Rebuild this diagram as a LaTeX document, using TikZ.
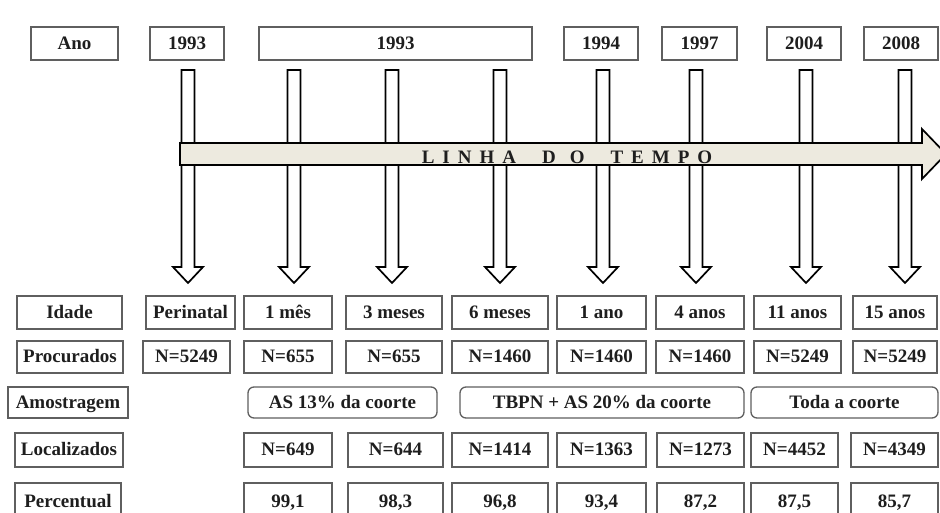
\documentclass[tikz,border=0pt]{standalone}
\usepackage{fontspec}
\setmainfont{Liberation Serif}
\definecolor{txt}{RGB}{30,30,30}
\definecolor{bord}{RGB}{95,95,95}
\definecolor{barfill}{RGB}{237,234,223}
\tikzset{
  cell/.style={draw=bord, line width=1.3pt, inner sep=0pt, text=txt,
    font=\bfseries\fontsize{19}{21}\selectfont, minimum height=33pt,
    text height=13.5pt, text depth=2pt},
  rcell/.style={cell, rounded corners=6pt},
  downarrow/.style={draw=black, line width=1.7pt, fill=white, line join=miter},
  timeline/.style={draw=black, line width=1.7pt, fill=barfill, line join=miter},
  tltext/.style={text=txt, font=\bfseries\fontsize{19}{21}\selectfont, inner sep=0pt},
}
\begin{document}
\begin{tikzpicture}[x=1pt,y=-1pt]
\useasboundingbox (0,0) rectangle (940,513);
\clip (0,0) rectangle (940,513);
\fill[white] (0,0) rectangle (940,513);

% top row: years
\node[cell, minimum width=87pt] (ano) at (74.5,43.5) {Ano};
\node[cell, minimum width=74pt] (y1) at (187,43.5) {1993};
\node[cell, minimum width=273pt] (y2) at (395.5,43.5) {1993};
\node[cell, minimum width=74pt] (y3) at (601,43.5) {1994};
\node[cell, minimum width=75pt] (y4) at (699.5,43.5) {1997};
\node[cell, minimum width=74pt] (y5) at (804,43.5) {2004};
\node[cell, minimum width=74pt] (y6) at (901,43.5) {2008};

% down arrows
\foreach \cx in {188,294,392,500,603,696,806,905}{
  \draw[downarrow] (\cx-6.5,70) -- (\cx+6.5,70) -- (\cx+6.5,267) -- (\cx+15,267)
    -- (\cx,283) -- (\cx-15,267) -- (\cx-6.5,267) -- cycle;
}

% timeline
\draw[timeline] (180,143) -- (922,143) -- (922,129) -- (946,154) -- (922,179)
  -- (922,165) -- (180,165) -- cycle;
\node[tltext] (linha) at (567,157)
  {L\kern8pt I\kern8pt N\kern8pt H\kern8pt A\kern26pt D\kern14pt O\kern26pt T\kern8pt E\kern8pt M\kern8pt P\kern8pt O};

% Idade row
\node[cell, minimum width=105pt] (idade) at (69.5,312.5) {Idade};
\node[cell, minimum width=89pt] (i1) at (190.5,312.5) {Perinatal};
\node[cell, minimum width=88pt] (i2) at (288,312.5) {1 mês};
\node[cell, minimum width=96pt] (i3) at (394,312.5) {3 meses};
\node[cell, minimum width=96pt] (i4) at (500,312.5) {6 meses};
\node[cell, minimum width=89pt] (i5) at (601.5,312.5) {1 ano};
\node[cell, minimum width=88pt] (i6) at (700,312.5) {4 anos};
\node[cell, minimum width=87pt] (i7) at (797.5,312.5) {11 anos};
\node[cell, minimum width=84pt] (i8) at (895,312.5) {15 anos};

% Procurados row
\node[cell, minimum width=106pt, minimum height=32pt] (proc) at (70,357) {Procurados};
\node[cell, minimum width=87pt, minimum height=32pt] (p1) at (186.5,357) {N=5249};
\node[cell, minimum width=88pt, minimum height=32pt] (p2) at (288,357) {N=655};
\node[cell, minimum width=96pt, minimum height=32pt] (p3) at (394,357) {N=655};
\node[cell, minimum width=96pt, minimum height=32pt] (p4) at (500,357) {N=1460};
\node[cell, minimum width=89pt, minimum height=32pt] (p5) at (601.5,357) {N=1460};
\node[cell, minimum width=88pt, minimum height=32pt] (p6) at (700,357) {N=1460};
\node[cell, minimum width=87pt, minimum height=32pt] (p7) at (797.5,357) {N=5249};
\node[cell, minimum width=84pt, minimum height=32pt] (p8) at (895,357) {N=5249};

% Amostragem row
\node[cell, minimum width=120pt, minimum height=31pt] (amos) at (68,402.5) {Amostragem};
\node[rcell, minimum width=189pt, minimum height=31pt] (a1) at (342.5,402.5) {AS 13\% da coorte};
\node[rcell, minimum width=284pt, minimum height=31pt] (a2) at (602,402.5) {TBPN + AS 20\% da coorte};
\node[rcell, minimum width=187pt, minimum height=31pt] (a3) at (844.5,402.5) {Toda a coorte};

% Localizados row
\node[cell, minimum width=108pt, minimum height=34pt] (loc) at (69,450) {Localizados};
\node[cell, minimum width=88pt, minimum height=34pt] (l1) at (288,450) {N=649};
\node[cell, minimum width=95pt, minimum height=34pt] (l2) at (395.5,450) {N=644};
\node[cell, minimum width=96pt, minimum height=34pt] (l3) at (500,450) {N=1414};
\node[cell, minimum width=89pt, minimum height=34pt] (l4) at (601.5,450) {N=1363};
\node[cell, minimum width=87pt, minimum height=34pt] (l5) at (700.5,450) {N=1273};
\node[cell, minimum width=87pt, minimum height=34pt] (l6) at (794.5,450) {N=4452};
\node[cell, minimum width=87pt, minimum height=34pt] (l7) at (894.5,450) {N=4349};

% Percentual row
\node[cell, minimum width=106pt, minimum height=38pt] (perc) at (68,502) {Percentual};
\node[cell, minimum width=88pt, minimum height=38pt] (q1) at (288,502) {99,1};
\node[cell, minimum width=95pt, minimum height=38pt] (q2) at (395.5,502) {98,3};
\node[cell, minimum width=96pt, minimum height=38pt] (q3) at (500,502) {96,8};
\node[cell, minimum width=89pt, minimum height=38pt] (q4) at (601.5,502) {93,4};
\node[cell, minimum width=87pt, minimum height=38pt] (q5) at (700.5,502) {87,2};
\node[cell, minimum width=87pt, minimum height=38pt] (q6) at (794.5,502) {87,5};
\node[cell, minimum width=87pt, minimum height=38pt] (q7) at (894.5,502) {85,7};
\end{tikzpicture}
\end{document}
